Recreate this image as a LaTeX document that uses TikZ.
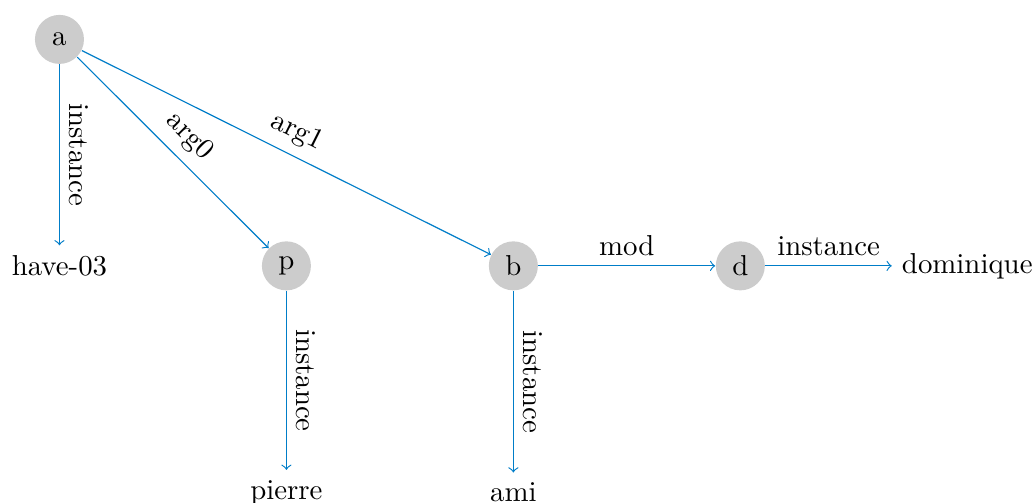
\documentclass[tikz,border=0pt]{standalone}
\definecolor{edgeblue}{RGB}{0,125,200}
\begin{document}
\begin{tikzpicture}[>=to, x=2.766cm, y=2.76cm,
        var/.style={circle, fill=black!20, minimum size=17pt, inner sep=0pt},
        rel/.style={->, edgeblue},
        lbl/.style={midway, sloped, above, text=black}]
        \useasboundingbox (-0.262,0.174) rectangle (4.294,-2.047);

        % Variabili
        \node[var] (a) at (0,0) {a};
        \node[var] (p) at (1,-1) {p};
        \node[var] (b) at (2,-1) {b};
        \node[var] (d) at (3,-1) {d};

        % Concetti
        \node (have) at (0,-1) {have-03};
        \node (dom) at (4,-1) {dominique};
        \node (pierre) at (1,-2) {pierre};
        \node (ami) at (2,-2) {ami};

        % Relazioni
        \draw[rel] (a) -- (have) node[lbl] {instance};
        \draw[rel] (a) -- (p) node[lbl] {arg0};
        \draw[rel] (a) -- (b) node[lbl] {arg1};
        \draw[rel] (p) -- (pierre) node[lbl] {instance};
        \draw[rel] (b) -- (ami) node[lbl] {instance};
        \draw[rel] (b) -- (d) node[lbl] {mod};
        \draw[rel] (d) -- (dom) node[lbl] {instance};
    \end{tikzpicture}
\end{document}
